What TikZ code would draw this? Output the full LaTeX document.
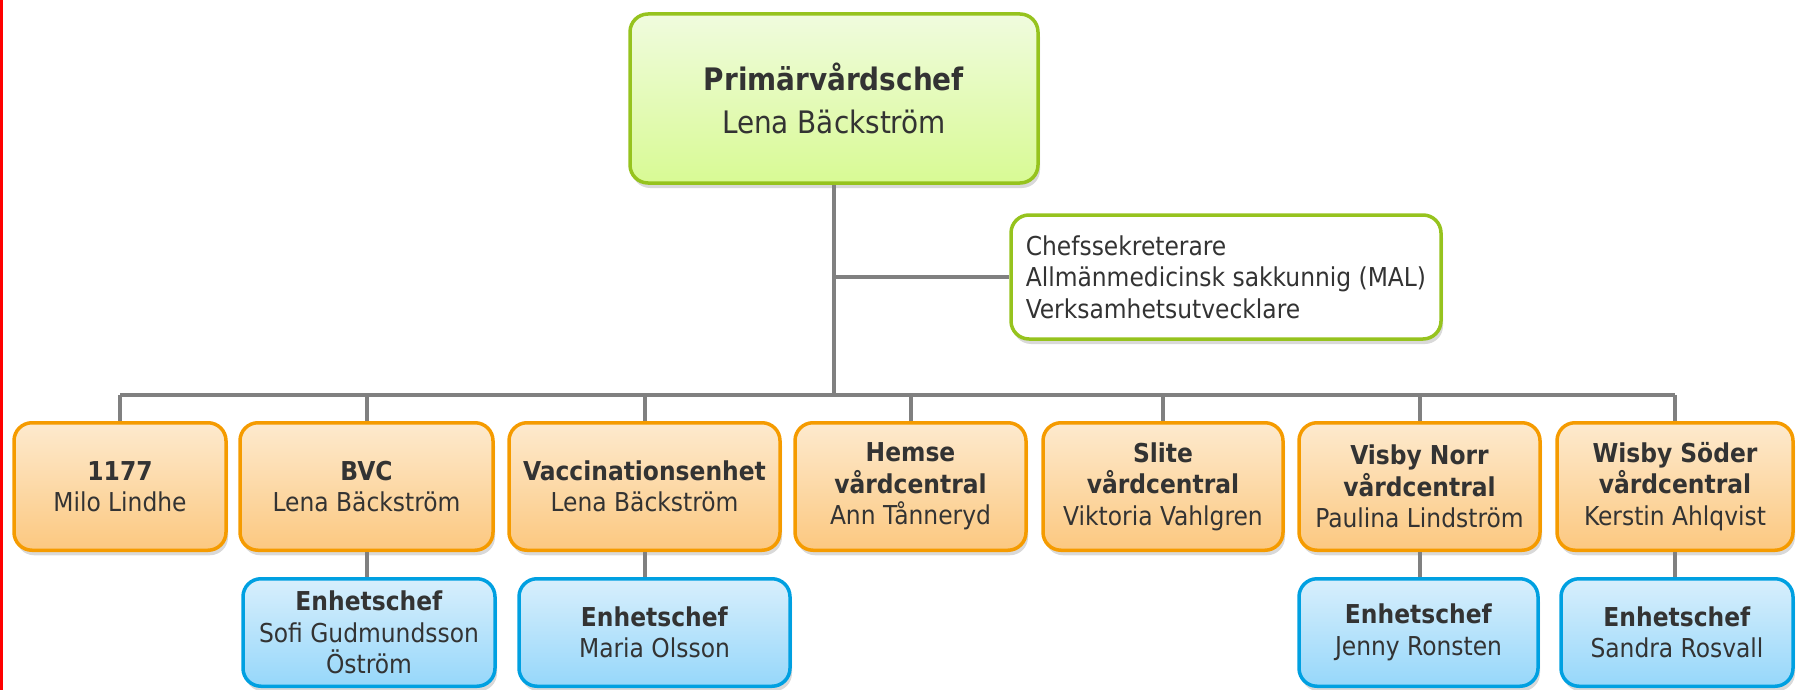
\documentclass[tikz,border=0pt]{standalone}
\usepackage{fontspec}
\setmainfont{DejaVu Sans Condensed}
\usetikzlibrary{positioning, shadows}

\begin{document}
\begin{tikzpicture}[x=1pt, y=-1pt,
  box/.style={rectangle, rounded corners=18pt, line width=3.5pt, inner sep=2pt,
    align=center, text=txtgray,
    drop shadow={opacity=0.3, shadow xshift=2pt, shadow yshift=-5pt}},
  topbox/.style={box, draw=leafgreen, top color=greentop, bottom color=greenbot,
    minimum width=408pt, minimum height=169pt, font=\fontsize{31}{43}\selectfont},
  staffbox/.style={box, draw=leafgreen, fill=white, align=left,
    minimum width=430pt, minimum height=124pt, font=\fontsize{26}{31.5}\selectfont},
  unitbox/.style={box, draw=unitorange, top color=orangetop, bottom color=orangebot,
    minimum height=127.5pt, font=\fontsize{26}{31.5}\selectfont},
  headbox/.style={box, draw=headblue, top color=bluetop, bottom color=bluebot,
    minimum height=107.5pt, font=\fontsize{26}{31.5}\selectfont},
  conn/.style={draw=linegray, line width=4pt}]
  % Define colors
  \definecolor{txtgray}{RGB}{51,51,51}
  \definecolor{linegray}{RGB}{128,128,128}
  \definecolor{leafgreen}{RGB}{150,195,30}
  \definecolor{greentop}{RGB}{240,251,222}
  \definecolor{greenbot}{RGB}{216,250,148}
  \definecolor{unitorange}{RGB}{245,155,0}
  \definecolor{orangetop}{RGB}{253,234,206}
  \definecolor{orangebot}{RGB}{252,200,128}
  \definecolor{headblue}{RGB}{0,160,225}
  \definecolor{bluetop}{RGB}{216,239,252}
  \definecolor{bluebot}{RGB}{150,215,250}

  \useasboundingbox (0,0) rectangle (1796,690);

  % Red edge on the left
  \draw[red, line width=2.5pt] (1.25,0) -- (1.25,690);

  % Primary care head
  \node[topbox] (chief) at (834,98.5) {\textbf{Primärvårdschef}\\Lena Bäckström};

  % Staff box
  \node[staffbox] (staff) at (1226,277)
    {Chefssekreterare\\Allmänmedicinsk sakkunnig (MAL)\\Verksamhetsutvecklare};

  % Units (orange)
  \foreach \id/\px/\bw/\lbl in {
    o1177/120/212pt/{\textbf{1177}\\Milo Lindhe},
    oBVC/366.5/253pt/{\textbf{BVC}\\Lena Bäckström},
    oVacc/644.5/271pt/{\textbf{Vaccinationsenhet}\\Lena Bäckström},
    oHemse/910.5/231pt/{\textbf{Hemse}\\\textbf{vårdcentral}\\Ann Tånneryd},
    oSlite/1163/240pt/{\textbf{Slite}\\\textbf{vårdcentral}\\Viktoria Vahlgren},
    oNorr/1419.5/241pt/{\textbf{Visby Norr}\\\textbf{vårdcentral}\\Paulina Lindström},
    oSoder/1675/236pt/{\textbf{Wisby Söder}\\\textbf{vårdcentral}\\Kerstin Ahlqvist}%
  } {
    \node[unitbox, minimum width=\bw] (\id) at (\px,486.5) {\lbl};
  }

  % Unit heads (blue)
  \foreach \id/\px/\bw/\lbl in {
    bBVC/369/252pt/{\textbf{Enhetschef}\\Sofi Gudmundsson\\Öström},
    bVacc/654.5/271pt/{\textbf{Enhetschef}\\Maria Olsson},
    bNorr/1418.5/239pt/{\textbf{Enhetschef}\\Jenny Ronsten},
    bSoder/1677/232pt/{\textbf{Enhetschef}\\Sandra Rosvall}%
  } {
    \node[headbox, minimum width=\bw] (\id) at (\px,632.5) {\lbl};
  }

  % Trunk, staff branch and bus
  \coordinate (busL) at (o1177.north |- 0,395);
  \coordinate (busR) at (oSoder.north |- 0,395);
  \coordinate (trunk) at (chief.south |- 0,395);
  \draw[conn] (chief.south) -- (trunk);
  \draw[conn] (chief.south |- staff.west) -- (staff.west);
  \draw[conn] (busL) -- (busR);

  % Drops to units
  \foreach \id in {o1177, oBVC, oVacc, oHemse, oSlite, oNorr, oSoder}
    \draw[conn] (\id.north |- busL) -- (\id.north);

  % Units to unit heads
  \foreach \up/\down in {oBVC/bBVC, oVacc/bVacc, oNorr/bNorr, oSoder/bSoder}
    \draw[conn] (\up.south) -- (\up.south |- \down.north);

\end{tikzpicture}
\end{document}
